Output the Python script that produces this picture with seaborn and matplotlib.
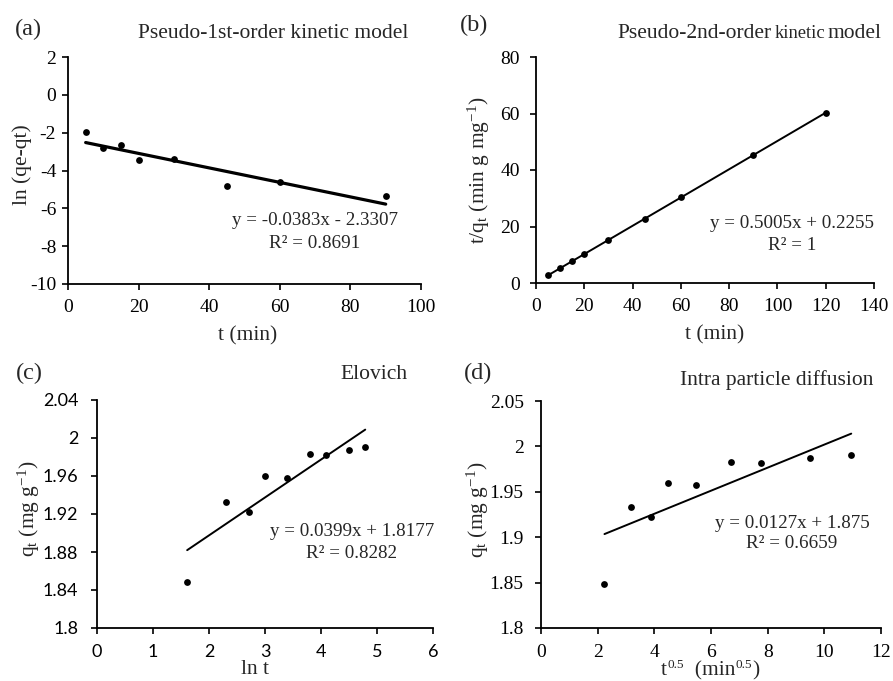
import numpy as np
import pandas as pd
import matplotlib
matplotlib.use("Agg")
import matplotlib.pyplot as plt
import seaborn as sns

# ---- data ----
t_min = [5, 10, 15, 20, 30, 45, 60, 90, 120]
ln_qe_qt = [-1.95, -2.80, -2.66, -3.45, -3.38, -4.81, -4.63, -5.36]  # t = 5..90
t_over_qt = [2.71, 5.17, 7.80, 10.20, 15.32, 22.69, 30.27, 45.29, 60.27]
ln_t = [1.61, 2.30, 2.71, 3.00, 3.40, 3.81, 4.09, 4.50, 4.79]
sqrt_t = [2.24, 3.16, 3.87, 4.47, 5.48, 6.71, 7.75, 9.49, 10.95]
q_t = [1.848, 1.933, 1.922, 1.960, 1.958, 1.983, 1.982, 1.987, 1.991]

fit_a = (-0.0383, -2.3307)
fit_b = (0.5005, 0.2255)
fit_c = (0.0399, 1.8177)
fit_d = (0.0127, 1.875)

sns.set_style("ticks")
plt.rcParams['font.family'] = ['Liberation Serif', 'DejaVu Serif']
plt.rcParams['mathtext.fontset'] = 'custom'
plt.rcParams['mathtext.rm'] = 'Liberation Serif'
plt.rcParams['mathtext.it'] = 'Liberation Serif'
plt.rcParams['axes.unicode_minus'] = False

W, H = 893, 681
fig = plt.figure(figsize=(W / 100, H / 100), dpi=100)

LBL = 15.5
TCK = 14


def ax_px(l, r, t, b):
    ax = fig.add_axes([l / W, 1 - b / H, (r - l) / W, (b - t) / H])
    ax._px = (l, r, t, b)
    return ax


def ftext(x, y, s, **kw):
    kw.setdefault('fontsize', 14)
    kw.setdefault('va', 'center')
    return fig.text(x / W, 1 - y / H, s, **kw)


def place_labels(ax, xl, yl):
    l, r, t, b = ax._px
    if xl is not None:
        ax.xaxis.set_label_coords((xl[0] - l) / (r - l), (b - xl[1]) / (b - t))
        ax.xaxis.label.set_va('center')
    ax.yaxis.set_label_coords((yl[0] - l) / (r - l), (b - yl[1]) / (b - t))
    ax.yaxis.label.set_va('center')


def style(ax, xpad, ypad, tickfont=None, tsize=TCK):
    for sp in ['top', 'right']:
        ax.spines[sp].set_visible(False)
    for sp in ['left', 'bottom']:
        ax.spines[sp].set_color('black')
        ax.spines[sp].set_linewidth(1.3)
    ax.tick_params(direction='out', length=4.5, width=1.2, colors='black',
                   labelsize=tsize)
    ax.tick_params(axis='x', pad=xpad)
    ax.tick_params(axis='y', pad=ypad)
    if tickfont:
        for lab in ax.get_xticklabels() + ax.get_yticklabels():
            lab.set_fontfamily(tickfont)


def fit_line(ax, xs, fit, lw):
    x = [min(xs), max(xs)]
    y = [fit[0] * v + fit[1] for v in x]
    sns.lineplot(x=x, y=y, ax=ax, color='black', linewidth=lw)


def dots(ax, x, y):
    sns.scatterplot(x=x, y=y, ax=ax, color='black', s=24, edgecolor='black',
                    linewidth=0, zorder=3)


# (a)
axa = ax_px(68, 421, 57, 284)
dots(axa, t_min[:8], ln_qe_qt)
fit_line(axa, t_min[:8], fit_a, 2.3)
axa.set_xlim(0, 100)
axa.set_ylim(-10, 2)
axa.set_xticks(range(0, 101, 20))
axa.set_yticks(range(-10, 3, 2))
axa.set_xlabel('t (min)', fontsize=LBL)
axa.set_ylabel('ln (qe-qt)', fontsize=LBL)
style(axa, xpad=6, ypad=4)
place_labels(axa, (248, 336), (22, 165))

# (b)
axb = ax_px(536, 874, 57, 283)
fit_line(axb, t_min, fit_b, 1.4)
dots(axb, t_min, t_over_qt)
axb.set_xlim(0, 140)
axb.set_ylim(0, 80)
axb.set_xticks(range(0, 141, 20))
axb.set_yticks(range(0, 81, 20))
axb.set_xlabel('t (min)', fontsize=LBL)
axb.set_ylabel(r't/q$_{\mathregular{t}}$ (min g mg$^{\mathregular{-1}}$)', fontsize=LBL)
style(axb, xpad=6, ypad=7)
place_labels(axb, (715, 335), (479, 170))

# (c)
axc = ax_px(97, 433, 400, 628)
fit_line(axc, ln_t, fit_c, 1.4)
dots(axc, ln_t, q_t)
axc.set_xlim(0, 6)
axc.set_ylim(1.8, 2.04)
axc.set_xticks(range(0, 7))
axc.set_yticks([1.8, 1.84, 1.88, 1.92, 1.96, 2.0, 2.04])
axc.set_yticklabels(['1.8', '1.84', '1.88', '1.92', '1.96', '2', '2.04'])
axc.set_xlabel('ln t', fontsize=LBL)
axc.set_ylabel(r'q$_{\mathregular{t}}$ (mg g$^{\mathregular{-1}}$)', fontsize=LBL)
style(axc, xpad=7, ypad=9, tickfont='Lato', tsize=13)
place_labels(axc, (255, 670), (29, 509))

# (d)
axd = ax_px(541, 881, 401, 628)
fit_line(axd, sqrt_t, fit_d, 1.4)
dots(axd, sqrt_t, q_t)
axd.set_xlim(0, 12)
axd.set_ylim(1.8, 2.05)
axd.set_xticks(range(0, 13, 2))
axd.set_yticks([1.8, 1.85, 1.9, 1.95, 2.0, 2.05])
axd.set_yticklabels(['1.8', '1.85', '1.9', '1.95', '2', '2.05'])
axd.set_ylabel(r'q$_{\mathregular{t}}$ (mg g$^{\mathregular{-1}}$)', fontsize=LBL)
style(axd, xpad=7, ypad=8)
place_labels(axd, None, (478, 510))

# x label of (d) built from pieces: t^0.5  (min^0.5)
SUP = 9.5
first = fig.text(0.7, 1 - 675 / H, 't', fontsize=LBL, va='baseline', ha='left')
pieces = [('0.5', SUP, True), ('  (min', LBL, False), ('0.5', SUP, True), (')', LBL, False)]
prev = first
last = first
for s, fs, sup in pieces:
    last = axd.annotate(s, xy=(1, 0), xycoords=(prev, first),
                        xytext=(0.6 if sup else 0, 6.3 if sup else 0),
                        textcoords='offset points', fontsize=fs,
                        va='bottom', ha='left', annotation_clip=False)
    prev = last
fig.canvas.draw()
r = fig.canvas.get_renderer()
x0 = first.get_window_extent(r).x0
x1 = last.get_window_extent(r).x1
width_px = x1 - x0
first.set_x((710 - width_px / 2) / W)

# panel letters and titles
TT = 15.5
PL = 17.5
ftext(15, 29, '(a)', fontsize=PL)
ftext(138, 33, 'Pseudo-1st-order kinetic model', fontsize=TT)
ftext(460, 25, '(b)', fontsize=PL)
ftext(882, 33, 'model', fontsize=TT, ha='right')
ftext(617, 33, 'Pseudo-2nd-order', fontsize=TT, ha='left')
ftext(800, 34, 'kinetic', fontsize=13.3, ha='center')
ftext(16, 373, '(c)', fontsize=PL)
ftext(408, 375, 'Elovich', fontsize=TT, ha='right')
ftext(464, 373, '(d)', fontsize=PL)
ftext(873, 380, 'Intra particle diffusion', fontsize=TT, ha='right')

# equations
EQ = 13.7
ftext(315, 220, 'y = -0.0383x - 2.3307', fontsize=EQ, ha='center')
ftext(315, 243, 'R² = 0.8691', fontsize=EQ, ha='center')
ftext(792, 223, 'y = 0.5005x + 0.2255', fontsize=EQ, ha='center')
ftext(792, 245, 'R² = 1', fontsize=EQ, ha='center')
ftext(352, 532, 'y = 0.0399x + 1.8177', fontsize=EQ, ha='center')
ftext(352, 553, 'R² = 0.8282', fontsize=EQ, ha='center')
ftext(792, 523, 'y = 0.0127x + 1.875', fontsize=EQ, ha='center')
ftext(792, 544, 'R² = 0.6659', fontsize=EQ, ha='center')

fig.savefig('out.png', dpi=100, facecolor='white')
